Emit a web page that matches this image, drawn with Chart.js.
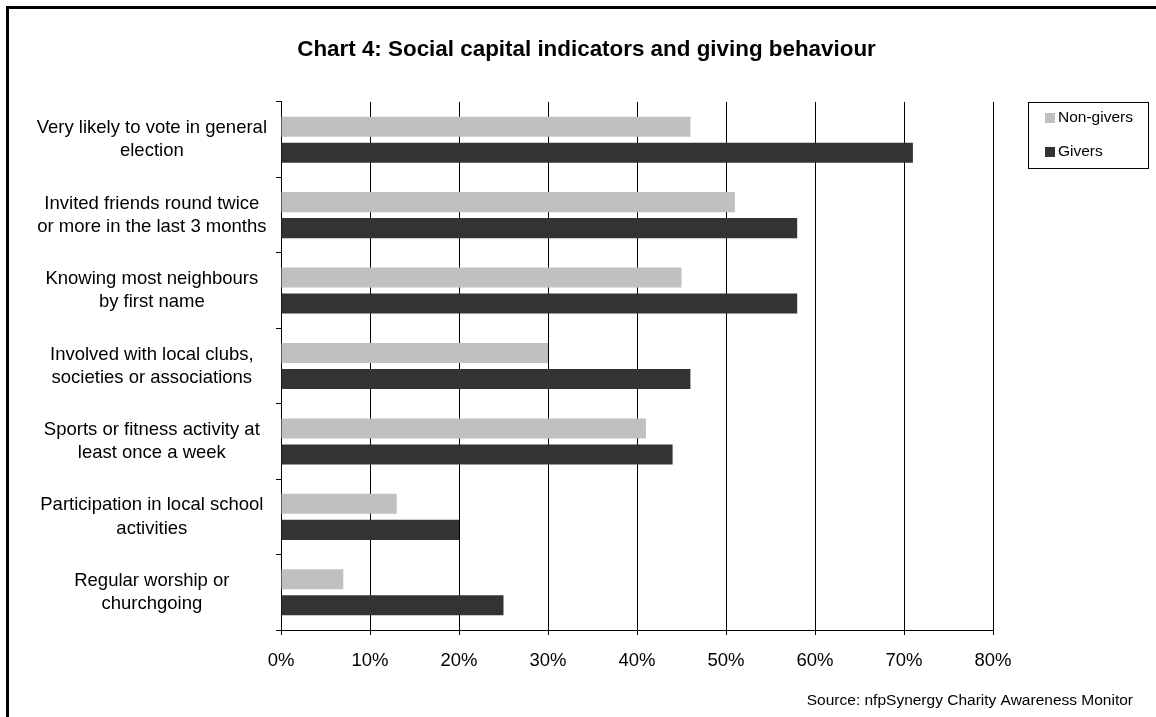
<!DOCTYPE html>
<html>
<head>
<meta charset="utf-8">
<title>Chart 4: Social capital indicators and giving behaviour</title>
<script src="https://cdn.jsdelivr.net/npm/chart.js@4"></script>
<style>
    html, body {
        margin: 0;
        padding: 0;
        background: #fff;
        overflow: hidden;
    }
    .frame {
        position: absolute;
        left: 6px;
        top: 6px;
        width: 2000px;
        height: 2000px;
        border: 3px solid #000;
    }
    #chart {
        position: absolute;
        left: 0;
        top: 0;
    }
</style>
</head>
<body>
<div class="frame"></div>
<canvas id="chart" width="1156" height="717"></canvas>
<script>
const categories = [
    ['Very likely to vote in general', 'election'],
    ['Invited friends round twice', 'or more in the last 3 months'],
    ['Knowing most neighbours', 'by first name'],
    ['Involved with local clubs,', 'societies or associations'],
    ['Sports or fitness activity at', 'least once a week'],
    ['Participation in local school', 'activities'],
    ['Regular worship or', 'churchgoing']
];
const nonGivers = [46, 51, 45, 30, 41, 13, 7];
const givers = [71, 58, 58, 46, 44, 20, 25];
const xTicks = [0, 10, 20, 30, 40, 50, 60, 70, 80];

const FONT = "'Liberation Sans', Arial, Helvetica, sans-serif";

// boxed legend drawn to the right of the plot
const boxedLegend = {
    id: 'boxedLegend',
    afterLayout(chart) {
        // category labels are wider than the axis box, don't let them get clipped
        chart.scales.y.left = 0;
    },
    afterDraw(chart) {
        const ctx = chart.ctx;
        const area = chart.chartArea;
        const left = area.right + 35;
        const top = area.top;
        const width = 120;
        const height = 66;

        ctx.save();
        ctx.strokeStyle = '#000';
        ctx.lineWidth = 1;
        ctx.strokeRect(left + 0.5, top + 0.5, width, height);

        ctx.font = '15.5px ' + FONT;
        ctx.textBaseline = 'middle';
        ctx.textAlign = 'left';
        chart.data.datasets.forEach(function(ds, i) {
            const cy = top + 16 + i * 34;
            ctx.fillStyle = ds.backgroundColor;
            ctx.fillRect(left + 17, cy - 5, 10, 10);
            ctx.fillStyle = '#000';
            ctx.fillText(ds.label, left + 30, cy);
        });
        ctx.restore();
    }
};

const ctx = document.getElementById('chart').getContext('2d');

new Chart(ctx, {
    type: 'bar',
    data: {
        labels: categories,
        datasets: [
            {
                label: 'Non-givers',
                data: nonGivers,
                backgroundColor: '#c0c0c0',
                categoryPercentage: 0.69,
                barPercentage: 0.77
            },
            {
                label: 'Givers',
                data: givers,
                backgroundColor: '#333333',
                categoryPercentage: 0.69,
                barPercentage: 0.77
            }
        ]
    },
    options: {
        indexAxis: 'y',
        responsive: false,
        animation: false,
        layout: {
            padding: { left: 40, right: 23, top: 0, bottom: 0 }
        },
        plugins: {
            legend: { display: false },
            tooltip: { enabled: false },
            title: {
                display: true,
                text: 'Chart 4: Social capital indicators and giving behaviour',
                color: '#000',
                font: { family: FONT, size: 22.4, weight: 'bold', lineHeight: 1.2 },
                padding: { top: 36, bottom: 39.1 }
            },
            subtitle: {
                display: true,
                position: 'bottom',
                align: 'end',
                text: 'Source: nfpSynergy Charity Awareness Monitor',
                color: '#000',
                font: { family: FONT, size: 15.5, lineHeight: 1.2 },
                padding: { top: 21.7, bottom: 6.7 }
            }
        },
        scales: {
            x: {
                type: 'linear',
                position: 'bottom',
                min: xTicks[0],
                max: xTicks[xTicks.length - 1],
                afterBuildTicks: function(scale) {
                    scale.ticks = xTicks.map(v => ({ value: v }));
                },
                afterFit: function(scale) {
                    scale.height = 40;
                },
                grid: {
                    color: '#000',
                    lineWidth: 1,
                    tickLength: 5
                },
                border: { color: '#000', width: 1 },
                ticks: {
                    color: '#000',
                    padding: 15,
                    font: { family: FONT, size: 18.5 },
                    callback: function(value) {
                        return value + '%';
                    }
                }
            },
            y: {
                type: 'category',
                position: 'left',
                afterFit: function(scale) {
                    scale.width = 241;
                },
                grid: {
                    offset: true,
                    drawOnChartArea: false,
                    color: '#000',
                    tickLength: 5
                },
                border: { color: '#000', width: 1 },
                ticks: {
                    color: '#000',
                    padding: 9,
                    crossAlign: 'center',
                    font: { family: FONT, size: 18.5, lineHeight: 1.25 }
                }
            },
            // empty axis that keeps room on the right for the legend box
            legendSpace: {
                type: 'linear',
                position: 'right',
                display: true,
                afterFit: function(scale) {
                    scale.width = 140;
                },
                grid: { display: false },
                border: { display: false },
                ticks: { display: false }
            }
        }
    },
    plugins: [boxedLegend]
});
</script>
</body>
</html>
